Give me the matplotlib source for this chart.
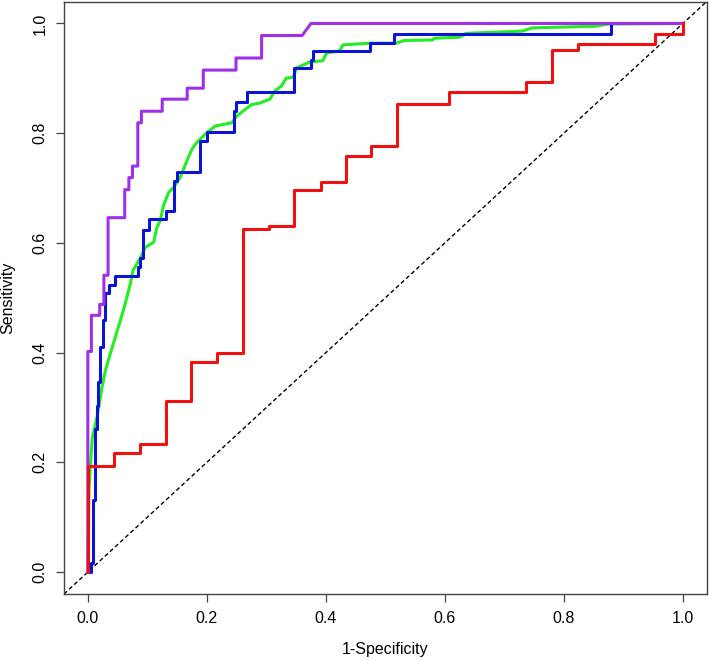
import numpy as np
import matplotlib
matplotlib.use('Agg')
import matplotlib.pyplot as plt

plt.rcParams['font.family'] = ['Liberation Sans', 'DejaVu Sans']

# ROC curves: (1-specificity, sensitivity) vertices
purple_fpr = [0, 0, 0.006, 0.006, 0.020, 0.020, 0.027, 0.027, 0.034, 0.034, 0.062, 0.062,
              0.069, 0.069, 0.075, 0.075, 0.084, 0.084, 0.090, 0.090, 0.125, 0.125,
              0.167, 0.167, 0.194, 0.194, 0.249, 0.249, 0.292, 0.292, 0.360, 0.375, 1.0]
purple_tpr = [0, 0.402, 0.402, 0.468, 0.468, 0.488, 0.488, 0.541, 0.541, 0.646, 0.646, 0.697,
              0.697, 0.719, 0.719, 0.740, 0.740, 0.819, 0.819, 0.840, 0.840, 0.862,
              0.862, 0.882, 0.882, 0.915, 0.915, 0.937, 0.937, 0.978, 0.978, 1.0, 1.0]

blue_fpr = [0, 0.0045, 0.0045, 0.0084, 0.0084, 0.0117, 0.0117, 0.0157, 0.0157, 0.0174, 0.0174,
            0.020, 0.020, 0.025, 0.025, 0.0296, 0.0296, 0.036, 0.036, 0.046, 0.046,
            0.084, 0.084, 0.088, 0.088, 0.093, 0.093, 0.102, 0.102, 0.132, 0.132,
            0.144, 0.144, 0.150, 0.150, 0.189, 0.189, 0.200, 0.200, 0.246, 0.246,
            0.249, 0.249, 0.267, 0.267, 0.347, 0.347, 0.375, 0.375, 0.379, 0.379,
            0.475, 0.475, 0.514, 0.514, 0.879, 0.879, 1.0]
blue_tpr = [0, 0, 0.016, 0.016, 0.132, 0.132, 0.260, 0.260, 0.302, 0.302, 0.347,
            0.347, 0.411, 0.411, 0.459, 0.459, 0.509, 0.509, 0.523, 0.523, 0.539,
            0.539, 0.556, 0.556, 0.572, 0.572, 0.623, 0.623, 0.644, 0.644, 0.659,
            0.659, 0.713, 0.713, 0.730, 0.730, 0.786, 0.786, 0.803, 0.803, 0.840,
            0.840, 0.857, 0.857, 0.875, 0.875, 0.918, 0.918, 0.934, 0.934, 0.949,
            0.949, 0.965, 0.965, 0.981, 0.981, 1.0, 1.0]

green_fpr = [0, 0.002, 0.005, 0.0074, 0.0157, 0.024, 0.0296, 0.038, 0.0464, 0.0548, 0.063,
             0.0715, 0.076, 0.088, 0.0966, 0.1106, 0.116, 0.1218, 0.127, 0.1357, 0.144,
             0.155, 0.1665, 0.175, 0.183, 0.200, 0.214, 0.242, 0.250, 0.264, 0.275,
             0.289, 0.306, 0.314, 0.3256, 0.333, 0.345, 0.351, 0.373, 0.395, 0.401,
             0.423, 0.429, 0.4735, 0.518, 0.532, 0.5796, 0.582, 0.624, 0.6355, 0.730,
             0.747, 0.853, 0.8755, 1.0]
green_tpr = [0, 0.15, 0.205, 0.244, 0.284, 0.338, 0.368, 0.399, 0.429, 0.459, 0.490,
             0.526, 0.550, 0.572, 0.592, 0.601, 0.628, 0.641, 0.668, 0.692, 0.701,
             0.719, 0.750, 0.771, 0.783, 0.801, 0.813, 0.819, 0.831, 0.843, 0.852,
             0.855, 0.862, 0.877, 0.886, 0.900, 0.902, 0.919, 0.930, 0.932, 0.946,
             0.950, 0.961, 0.964, 0.964, 0.969, 0.970, 0.973, 0.975, 0.982, 0.986,
             0.992, 0.995, 0.999, 1.0]

red_fpr = [0, 0, 0.0436, 0.0436, 0.087, 0.087, 0.1307, 0.1307, 0.174, 0.174, 0.2168, 0.2168,
           0.2603, 0.2603, 0.3044, 0.3044, 0.347, 0.347, 0.391, 0.391, 0.4345, 0.4345,
           0.4764, 0.4764, 0.520, 0.520, 0.6075, 0.6075, 0.737, 0.737, 0.7806, 0.7806,
           0.8236, 0.8236, 0.9538, 0.9538, 1.0, 1.0]
red_tpr = [0, 0.194, 0.194, 0.217, 0.217, 0.234, 0.234, 0.311, 0.311, 0.382, 0.382, 0.399,
           0.399, 0.626, 0.626, 0.630, 0.630, 0.697, 0.697, 0.711, 0.711, 0.759,
           0.759, 0.776, 0.776, 0.853, 0.853, 0.875, 0.875, 0.894, 0.894, 0.951,
           0.951, 0.962, 0.962, 0.981, 0.981, 1.0]

ticks = [0.0, 0.2, 0.4, 0.6, 0.8, 1.0]

fig = plt.figure(figsize=(7.09, 6.6), dpi=100)
ax = fig.add_axes([0.0903, 0.1, 0.9065, 0.8977])

ax.plot([-0.04, 1.04], [-0.04, 1.04], color='black', lw=1.0, dashes=(3, 2))
ax.plot(green_fpr, green_tpr, color='#22ee22', lw=2.2)
ax.plot(blue_fpr, blue_tpr, color='#0a14d6', lw=2.2)
ax.plot(purple_fpr, purple_tpr, color='#a030e8', lw=2.2)
ax.plot(red_fpr, red_tpr, color='#f01010', lw=2.2)

ax.set_xlim(-0.04, 1.04)
ax.set_ylim(-0.04, 1.04)
ax.set_xticks(ticks)
ax.set_yticks(ticks)
ax.set_xticklabels(['%.1f' % t for t in ticks], fontsize=11.5)
ax.set_yticklabels(['%.1f' % t for t in ticks], fontsize=11.5, rotation=90, va='center')
ax.tick_params(length=6, width=0.9, color='#444444', pad=6)
for s in ax.spines.values():
    s.set_linewidth(1.0)
    s.set_color('#444444')

ax.set_xlabel('1-Specificity', fontsize=11.5, labelpad=12)
ax.set_ylabel('Sensitivity', fontsize=11.5, labelpad=12)

fig.savefig('out.png', dpi=100)
